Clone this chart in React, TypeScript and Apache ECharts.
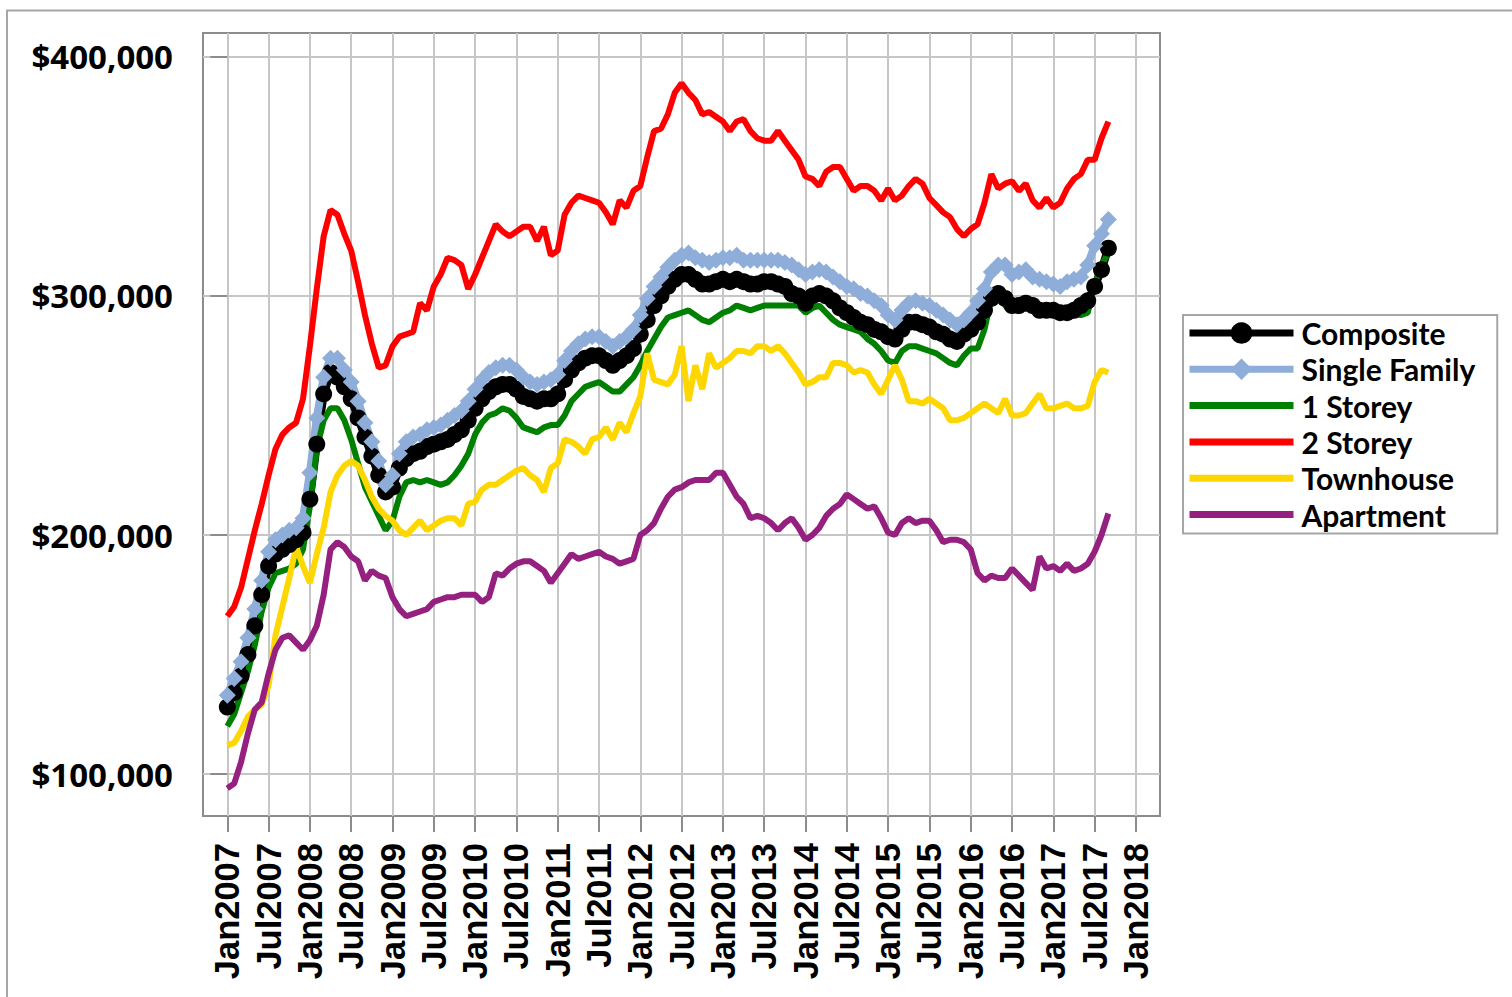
import React, { useEffect, useRef } from "react";
import * as echarts from "echarts";

// Tick labels on the x axis (every 6 months, month index from Jan2007 = 0)
const tickLabels = [
  "Jan2007", "Jul2007", "Jan2008", "Jul2008", "Jan2009", "Jul2009", "Jan2010", "Jul2010",
  "Jan2011", "Jul2011", "Jan2012", "Jul2012", "Jan2013", "Jul2013", "Jan2014", "Jul2014",
  "Jan2015", "Jul2015", "Jan2016", "Jul2016", "Jan2017", "Jul2017", "Jan2018",
];
const tickMonths = [0, 6, 12, 18, 24, 30, 36, 42, 48, 54, 60, 66, 72, 78, 84, 90, 96, 102, 108, 114, 120, 126, 132];
const yTicks = [100, 200, 300, 400]; // thousands of dollars

// Monthly benchmark prices, Jan2007 .. Sep2017, in thousands of dollars
const composite = [
  128, 134, 141, 150, 162, 175, 187, 192, 194, 196, 198, 201,
  215, 238, 259, 268, 266, 262, 257, 249, 241, 233, 225, 218,
  220, 228, 232, 234, 235, 237, 238, 239, 240, 242, 244, 248,
  253, 257, 260, 262, 263, 263, 261, 258, 257, 256, 257, 257,
  259, 265, 269, 272, 274, 275, 275, 273, 271, 273, 275, 278,
  284, 290, 296, 300, 304, 307, 309, 309, 307, 305, 305, 306,
  307, 306, 307, 306, 305, 305, 306, 306, 305, 304, 301, 300,
  297, 300, 301, 300, 298, 295, 293, 291, 289, 288, 286, 285,
  283, 282, 286, 289, 289, 288, 287, 285, 284, 282, 281, 284,
  286, 289, 294, 299, 301, 299, 296, 296, 297, 296, 294, 294,
  294, 293, 293, 294, 296, 298, 304, 311, 320,
];
const singleFamily = [
  133, 140, 147, 157, 169, 181, 193, 198, 200, 202, 203, 207,
  226, 249, 266, 274, 274, 269, 264, 256, 247, 239, 231, 221,
  225, 234, 239, 241, 242, 244, 245, 246, 248, 250, 252, 256,
  261, 265, 268, 270, 271, 271, 269, 266, 264, 263, 264, 265,
  267, 273, 277, 280, 282, 283, 283, 281, 279, 281, 283, 286,
  292, 299, 304, 308, 312, 315, 317, 318, 316, 315, 314, 315,
  316, 316, 317, 315, 315, 315, 315, 315, 315, 314, 313, 311,
  309, 310, 311, 310, 308, 306, 304, 303, 301, 300, 298, 296,
  292, 290, 294, 297, 298, 297, 296, 294, 292, 290, 288, 290,
  293, 298, 303, 310, 313, 313, 309, 310, 311, 308, 307, 306,
  305, 304, 306, 307, 308, 313, 321, 326, 332,
];
const oneStorey = [
  120, 125, 134, 143, 154, 168, 178, 184, 185, 186, 188, 194,
  212, 236, 248, 253, 253, 248, 240, 230, 220, 214, 208, 202,
  206, 216, 222, 223, 222, 223, 222, 221, 222, 225, 229, 234,
  242, 247, 250, 251, 253, 252, 249, 245, 244, 243, 245, 246,
  246, 250, 256, 259, 262, 263, 264, 262, 260, 260, 263, 266,
  271, 277, 282, 287, 291, 292, 293, 294, 292, 290, 289, 291,
  293, 294, 296, 295, 294, 295, 296, 296, 296, 296, 296, 296,
  293, 295, 296, 293, 290, 288, 287, 286, 285, 282, 280, 277,
  273, 272, 277, 279, 279, 278, 277, 276, 274, 272, 271, 275,
  278, 278, 286, 299, 302, 296, 295, 296, 298, 295, 293, 294,
  295, 292, 293, 293, 292, 293, 305, 313, 318,
];
const twoStorey = [
  166, 170, 178, 190, 202, 213, 225, 236, 242, 245, 247, 257,
  279, 303, 325, 336, 334, 326, 319, 306, 292, 280, 270, 271,
  279, 283, 284, 285, 297, 294, 304, 309, 316, 315, 313, 303,
  309, 316, 323, 330, 327, 325, 327, 329, 329, 323, 329, 317,
  319, 334, 339, 342, 341, 340, 339, 335, 330, 340, 337, 344,
  346, 358, 369, 370, 376, 385, 389, 385, 382, 376, 377, 375,
  373, 369, 373, 374, 369, 366, 365, 365, 369, 365, 361, 357,
  350, 349, 346, 352, 354, 354, 349, 344, 346, 346, 344, 340,
  345, 340, 342, 346, 349, 347, 341, 338, 335, 333, 328, 325,
  328, 330, 339, 351, 345, 347, 348, 344, 347, 340, 337, 341,
  337, 339, 345, 349, 351, 357, 357, 366, 373,
];
const townhouse = [
  112, 113, 118, 124, 127, 129, 137, 158, 170, 182, 195, 187,
  180, 192, 203, 218, 225, 229, 231, 229, 223, 216, 211, 208,
  206, 202, 200, 203, 206, 202, 204, 206, 207, 207, 204, 213,
  214, 219, 221, 221, 223, 225, 227, 228, 225, 223, 218, 228,
  230, 240, 239, 237, 234, 240, 241, 245, 240, 247, 243, 251,
  258, 276, 265, 264, 263, 267, 279, 256, 271, 261, 276, 270,
  272, 274, 277, 277, 276, 279, 279, 277, 279, 276, 272, 268,
  263, 264, 266, 266, 272, 272, 271, 268, 269, 268, 263, 259,
  265, 271, 265, 256, 256, 255, 257, 255, 253, 248, 248, 249,
  251, 253, 255, 253, 251, 257, 250, 250, 251, 255, 259, 253,
  253, 254, 255, 253, 253, 254, 264, 269, 268,
];
const apartment = [
  94, 96, 105, 117, 127, 130, 142, 152, 157, 158, 155, 152,
  156, 162, 175, 194, 197, 195, 191, 189, 181, 185, 183, 182,
  174, 169, 166, 167, 168, 169, 172, 173, 174, 174, 175, 175,
  175, 172, 174, 184, 183, 186, 188, 189, 189, 187, 185, 180,
  184, 188, 192, 190, 191, 192, 193, 191, 190, 188, 189, 190,
  200, 202, 205, 211, 216, 219, 220, 222, 223, 223, 223, 226,
  226, 221, 216, 213, 207, 208, 207, 205, 202, 205, 207, 203,
  198, 200, 203, 208, 211, 213, 217, 215, 213, 211, 212, 207,
  201, 200, 205, 207, 205, 206, 206, 202, 197, 198, 198, 197,
  194, 184, 181, 183, 182, 182, 186, 183, 180, 177, 191, 186,
  187, 185, 188, 185, 186, 188, 193, 200, 209,
];

const seriesNames = ["Composite", "Single Family", "1 Storey", "2 Storey", "Townhouse", "Apartment"];
const seriesColors = ["#000000", "#8eadd9", "#008000", "#ff0000", "#ffd700", "#962080"];

const toPoints = (arr: number[]) => arr.map((v, i) => [i, v]);
const legendBar = "path://M0,0L104,0L104,7L0,7Z";

export default function App() {
  const ref = useRef<HTMLDivElement>(null);

  useEffect(() => {
    document.body.style.margin = "0";
    document.body.style.overflow = "hidden";
    if (!ref.current) return;
    const chart = echarts.init(ref.current, undefined, { renderer: "svg" });

    const plain = (name: string, data: number[], color: string) => ({
      name,
      type: "line",
      data: toPoints(data),
      symbol: "none",
      lineStyle: { color, width: 6 },
      itemStyle: { color },
      emphasis: { disabled: true },
    });

    chart.setOption({
      animation: false,
      backgroundColor: "#ffffff",
      graphic: [
        {
          type: "rect",
          shape: { x: 7, y: 10.5, width: 1700, height: 1200 },
          style: { fill: "none", stroke: "#a6a6a6", lineWidth: 2 },
          silent: true,
          z: -10,
        },
      ],
      grid: {
        left: 203,
        top: 33,
        width: 957,
        height: 783,
        show: true,
        borderColor: "#8c8c8c",
        borderWidth: 2,
        backgroundColor: "transparent",
      },
      legend: {
        orient: "vertical",
        left: 1183,
        top: 315,
        padding: [3, 22, 4, 3],
        itemWidth: 104,
        itemHeight: 27,
        itemGap: 6.3,
        borderColor: "#a6a6a6",
        borderWidth: 2,
        selectedMode: false,
        lineStyle: { width: 7 },
        textStyle: {
          fontFamily: "Lato",
          fontWeight: "bold",
          fontSize: 30,
          lineHeight: 30,
          color: "#000",
          padding: [0, 0, 0, 3],
        },
        data: [
          { name: seriesNames[0] },
          { name: seriesNames[1] },
          { name: seriesNames[2], icon: legendBar },
          { name: seriesNames[3], icon: legendBar },
          { name: seriesNames[4], icon: legendBar },
          { name: seriesNames[5], icon: legendBar },
        ],
      },
      xAxis: {
        type: "value",
        min: -3.53,
        max: 135.5,
        axisLine: { show: false },
        axisTick: {
          show: true,
          length: 16,
          customValues: tickMonths,
          lineStyle: { color: "#8c8c8c", width: 2 },
        },
        axisLabel: {
          customValues: tickMonths,
          rotate: 90,
          margin: 27,
          formatter: (v: number) => tickLabels[tickMonths.indexOf(Math.round(v))] ?? "",
          fontFamily: "Liberation Sans",
          fontWeight: "bold",
          fontSize: 34.5,
          color: "#000",
        },
        splitLine: { show: true, lineStyle: { color: "#c6c6c6", width: 2 } },
      },
      yAxis: {
        type: "value",
        min: 82.43,
        max: 410.04,
        axisLine: { show: false },
        axisTick: {
          show: true,
          length: 17,
          customValues: yTicks,
          lineStyle: { color: "#8c8c8c", width: 2 },
        },
        axisLabel: {
          customValues: yTicks,
          margin: 30,
          formatter: (v: number) => "$" + Math.round(v) + ",000",
          fontFamily: "Open Sans",
          fontWeight: "bold",
          fontSize: 33,
          color: "#000",
        },
        splitLine: { show: true, lineStyle: { color: "#c6c6c6", width: 2 } },
      },
      series: [
        {
          name: seriesNames[0],
          type: "line",
          data: toPoints(composite),
          symbol: "circle",
          symbolSize: 17,
          showAllSymbol: true,
          lineStyle: { color: seriesColors[0], width: 8 },
          itemStyle: { color: seriesColors[0] },
          emphasis: { disabled: true },
        },
        {
          name: seriesNames[1],
          type: "line",
          data: toPoints(singleFamily),
          symbol: "diamond",
          symbolSize: [17, 17],
          showAllSymbol: true,
          lineStyle: { color: seriesColors[1], width: 8 },
          itemStyle: { color: seriesColors[1] },
          emphasis: { disabled: true },
        },
        plain(seriesNames[2], oneStorey, seriesColors[2]),
        plain(seriesNames[3], twoStorey, seriesColors[3]),
        plain(seriesNames[4], townhouse, seriesColors[4]),
        plain(seriesNames[5], apartment, seriesColors[5]),
      ],
    });

    return () => chart.dispose();
  }, []);

  return (
    <div
      ref={ref}
      style={{ position: "fixed", left: 0, top: 0, width: 1512, height: 997, background: "#fff" }}
    />
  );
}
